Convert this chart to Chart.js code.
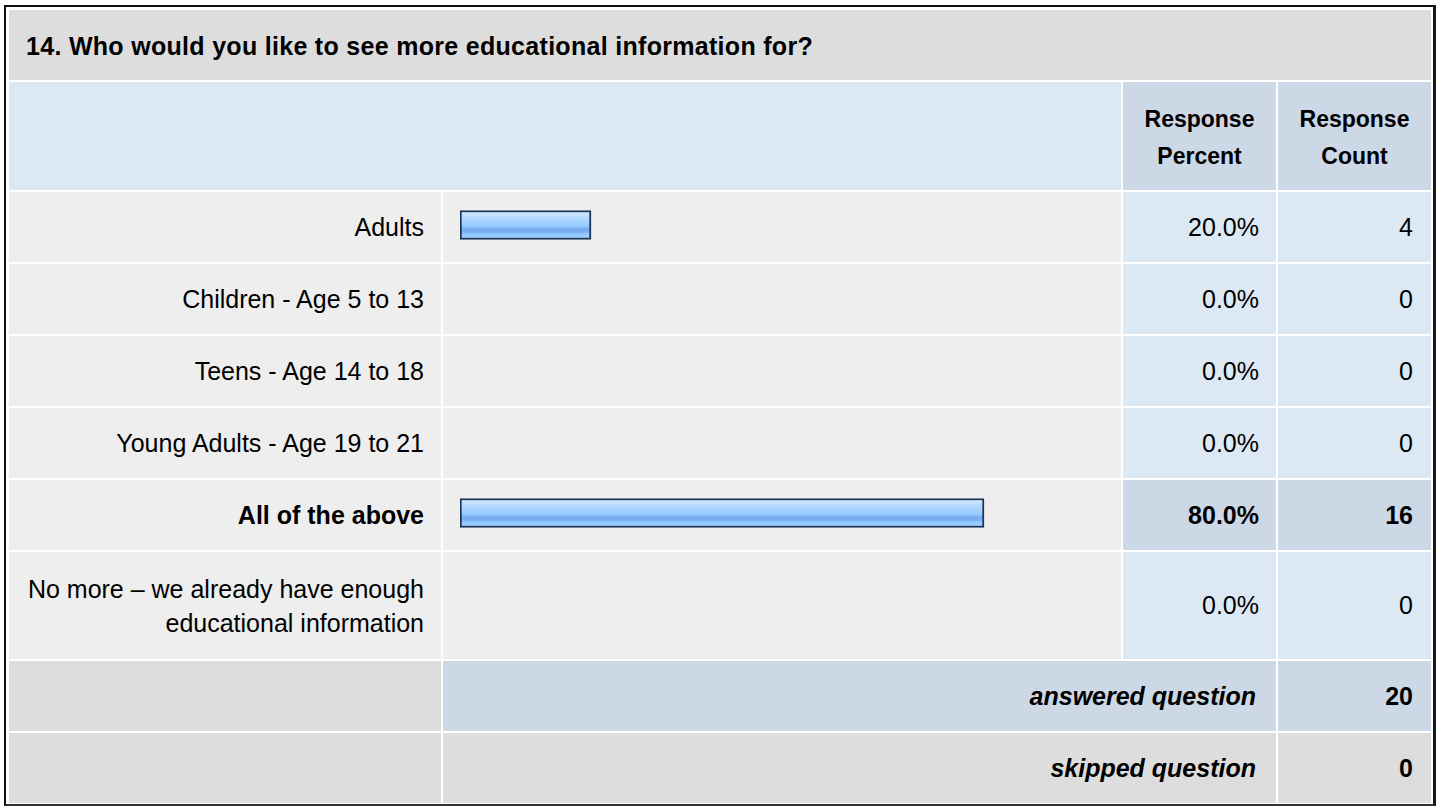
<!DOCTYPE html>
<html>
<head>
<meta charset="utf-8">
<script src="https://cdn.jsdelivr.net/npm/chart.js@4/dist/chart.umd.min.js"></script>
<style>
  html, body { margin: 0; padding: 0; background: #fff; }
  body { width: 1440px; height: 806px; position: relative; overflow: hidden;
         font-family: "Liberation Sans", Arial, sans-serif; color: #000; }
  #tbl {
    position: absolute; left: 4px; top: 5px;
    border-left: 2px solid #111; border-top: 2px solid #111;
    border-right: 3px solid #1a1a1a; border-bottom: 2px solid #333;
    padding: 3px 2px 1px 3px;
    display: grid;
    grid-template-columns: 432px 678px 153px 153px;
    grid-template-rows: 70px 108px 70px 70px 70px 70px 70px 107px 70px 70px;
    gap: 2px;
    background: #fff;
  }
  .c { display: flex; align-items: center; box-sizing: border-box; font-size: 25px; }
  .title { grid-column: 1 / 5; background: #dddddd; font-weight: bold; padding-left: 17px; letter-spacing: 0.3px; padding-top: 2px; }
  .hblank { grid-column: 1 / 3; background: #dde8f5; }
  .hcol { background: #ccd8e6; font-weight: bold; font-size: 23px; justify-content: center; text-align: center; line-height: 37px; padding-top: 4px; }
  .lab { background: #eeeeee; justify-content: flex-end; text-align: right; padding-right: 17px; line-height: 34px; }
  .bar { background: #eeeeee; }
  .val { background: #dde8f5; justify-content: flex-end; padding-right: 17px; }
  .cnt { background: #dde8f5; justify-content: flex-end; padding-right: 18px; }
  .hi { background: #ccd8e6; font-weight: bold; }
  .bold { font-weight: bold; }
  .foot { background: #dddddd; }
  .ftxt { grid-column: 2 / 4; justify-content: flex-end; padding-right: 20px; font-weight: bold; font-style: italic; }
  .fcnt { justify-content: flex-end; padding-right: 18px; font-weight: bold; }
  .blue { background: #ccd8e6; }
  #wrap { position: absolute; left: 443px; top: 189px; width: 678px; height: 432px; pointer-events: none; }
</style>
</head>
<body>
<div id="tbl"></div>
<div id="wrap"><canvas id="bars" width="678" height="432"></canvas></div>
<script>
const questionTitle = '14. Who would you like to see more educational information for?';
const categories = [
    'Adults',
    'Children - Age 5 to 13',
    'Teens - Age 14 to 18',
    'Young Adults - Age 19 to 21',
    'All of the above',
    'No more \u2013 we already have enough educational information'
];
const responsePercent = [20.0, 0.0, 0.0, 0.0, 80.0, 0.0];
const responseCount = [4, 0, 0, 0, 16, 0];
const answeredQuestion = 20;
const skippedQuestion = 0;

// build the table around the chart
let tbl = document.getElementById('tbl');
function cell(cls, html) {
    let d = document.createElement('div');
    d.className = 'c ' + cls;
    d.innerHTML = html || '';
    tbl.appendChild(d);
    return d;
}
let maxCount = Math.max.apply(null, responseCount);

cell('title', questionTitle);
cell('hblank');
cell('hcol', 'Response<br>Percent');
cell('hcol', 'Response<br>Count');
categories.forEach(function (cat, i) {
    let hi = responseCount[i] === maxCount;
    let text = cat;
    if (i === categories.length - 1) text = 'No more \u2013 we already have enough<br>educational information';
    cell('lab' + (hi ? ' bold' : ''), text);
    cell('bar');
    cell('val' + (hi ? ' hi' : ''), responsePercent[i].toFixed(1) + '%');
    cell('cnt' + (hi ? ' hi' : ''), String(responseCount[i]));
});
cell('foot');
cell('ftxt blue', 'answered question');
cell('fcnt blue', String(answeredQuestion));
cell('foot');
cell('ftxt foot', 'skipped question');
cell('fcnt foot', String(skippedQuestion));

//- bar chart -
const barH = 29;
function barFill(c) {
    let y = c.chart.scales.y;
    if (!y || c.type !== 'data') return '#9ccfff';
    let py = y.getPixelForValue(c.dataIndex);
    if (!isFinite(py)) return '#9ccfff';
    let g = c.chart.ctx.createLinearGradient(0, py - barH / 2, 0, py + barH / 2);
    g.addColorStop(0.00, '#d4eaff');
    g.addColorStop(0.12, '#c8e4ff');
    g.addColorStop(0.25, '#b4d9ff');
    g.addColorStop(0.38, '#a5d2ff');
    g.addColorStop(0.52, '#9acdff');
    g.addColorStop(0.58, '#8fc3fb');
    g.addColorStop(0.62, '#79aef0');
    g.addColorStop(0.74, '#7ab0f2');
    g.addColorStop(0.80, '#8fc6ff');
    g.addColorStop(1.00, '#a8d6ff');
    return g;
}

let barChart = new Chart(document.getElementById('bars').getContext('2d'), {
    type: 'bar',
    data: {
        labels: categories,
        datasets: [{
            data: responsePercent,
            backgroundColor: barFill,
            borderColor: '#1d3557',
            borderWidth: 2,
            borderSkipped: false,
            barThickness: barH
        }]
    },
    options: {
        indexAxis: 'y',
        responsive: false,
        animation: false,
        events: [],
        layout: { padding: { left: 17, right: 6, top: 0, bottom: 0 } },
        plugins: { legend: { display: false }, tooltip: { enabled: false } },
        scales: {
            x: { display: false, min: 0, max: 100 },
            y: { display: false }
        }
    }
});
barChart.update('none');
</script>
</body>
</html>
